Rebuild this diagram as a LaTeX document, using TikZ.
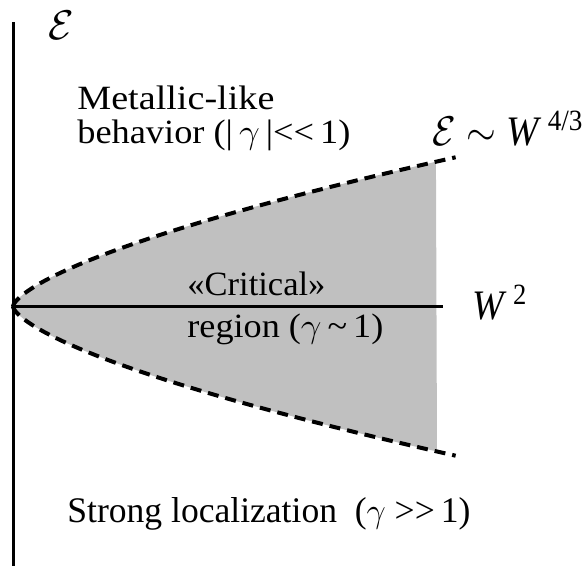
\documentclass[tikz,border=0pt]{standalone}
\usepackage{fontspec}
\setmainfont{Liberation Serif}
\definecolor{regiongray}{RGB}{192,192,192}
\newcommand\fitw[2]{\resizebox{#1}{\height}{#2}}
\begin{document}
\begin{tikzpicture}[x=0.5pt,y=-0.5pt,
  lbl/.style={inner sep=0pt, anchor=base west, font=\fontsize{17}{20}\selectfont},
  mlbl/.style={inner sep=0pt, anchor=base west, font=\fontsize{21}{25}\selectfont},
  axisline/.style={line width=1.5pt},
  bound/.style={line width=2pt, dash pattern=on 5.5pt off 3.5pt},
]
\useasboundingbox (0,0) rectangle (585,566);
% shaded critical region
\fill[regiongray]
  plot[domain=0:1, samples=70, variable=\s] ({13+424*\s^3},{306.5-145*\s^2})
  -- plot[domain=1:0, samples=70, variable=\s] ({13+424*\s^3},{306.5+145*\s^2})
  -- cycle;
% axes
\coordinate (O) at (13,306.5);
\coordinate (ytop) at (13,22);
\coordinate (ybot) at (13,566);
\coordinate (xend) at (443,306.5);
\draw[axisline] (ybot) -- (ytop);
\draw[axisline] (O) -- (xend);
% boundaries E ~ W^{4/3}
\draw[bound] plot[domain=0:1.0155, samples=90, variable=\s] ({13+424*\s^3},{306.5-145*\s^2});
\draw[bound] plot[domain=0:1.0155, samples=90, variable=\s] ({13+424*\s^3},{306.5+145*\s^2});
% labels
\node[inner sep=0pt, font=\fontsize{22}{26}\selectfont] (Eaxis) at (61,25) {$\mathcal{E}$};
\node[lbl] (metal) at (77,110) {\fitw{98.5pt}{Metallic-like}};
\node[lbl] (behav) at (77,144) {\fitw{136.5pt}{behavior (|\,$\gamma$\,|<{}<\,1)}};
\node[lbl] (crit) at (187,296) {\fitw{69pt}{«Critical»}};
\node[lbl] (region) at (187,338) {\fitw{98pt}{region ($\gamma$\,\textasciitilde\,1)}};
\node[lbl, font=\fontsize{18}{22}\selectfont] (strong) at (67,523) {\fitw{201.5pt}{Strong localization\ \ ($\gamma$ >{}>\,1)}};
\node[mlbl] (W2) at (472,320) {\fitw{27.5pt}{\textit{W}\,\textsuperscript{2}}};
\node[mlbl] (law) at (432,146) {\fitw{75.5pt}{$\mathcal{E}\sim$ \textit{W}\,\textsuperscript{4/3}}};
\end{tikzpicture}
\end{document}
